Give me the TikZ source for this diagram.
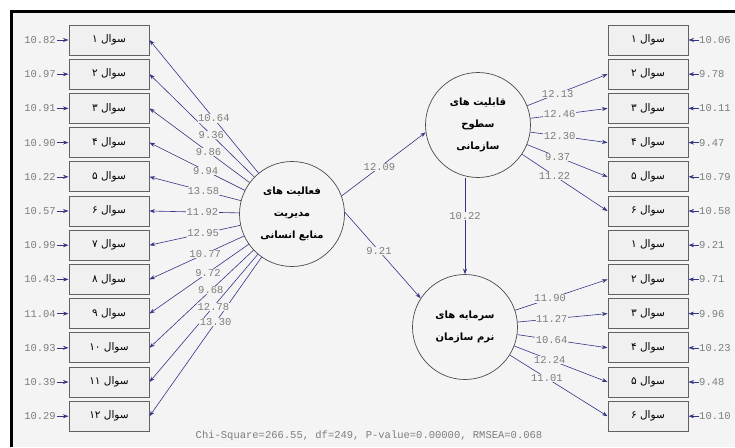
\documentclass[tikz,border=0pt]{standalone}
\usepackage{fontspec}
\setmonofont{Liberation Mono}
\newfontfamily\farsi[Script=Arabic]{DejaVu Sans}
\usetikzlibrary{arrows.meta,positioning}
\TeXXeTstate=1

\definecolor{bgcol}{RGB}{244,244,244}
\definecolor{boxfill}{RGB}{240,240,240}
\definecolor{pathblue}{RGB}{52,52,135}
\definecolor{numgray}{RGB}{125,125,125}

\newcommand{\fa}[1]{{\farsi\beginR #1\endR}}

\begin{document}
\begin{tikzpicture}[
    x=1pt,y=-1pt,
    item/.style={draw=black!62,line width=1pt,fill=boxfill,minimum width=80pt,minimum height=30pt,inner sep=0pt,font=\farsi\fontsize{10.5}{12}\selectfont},
    latent/.style={circle,draw=black!70,line width=0.7pt,fill=bgcol,minimum size=105pt,inner sep=0pt,align=center,font=\farsi\bfseries\fontsize{10}{22}\selectfont},
    num/.style={font=\ttfamily\fontsize{10.5}{10}\selectfont,text=numgray,inner sep=0.5pt},
    tval/.style={num,fill=bgcol},
    arr/.style={-{Stealth[length=5.5pt,width=4pt]},draw=pathblue,line width=0.6pt}
    ]

    % frame
    \useasboundingbox (0,0) rectangle (735,447);
    \fill[white] (0,0) rectangle (735,447);
    \fill[bgcol] (11.5,11.5) rectangle (735,447);
    \draw[line width=3pt] (11.5,447) -- (11.5,11.5) -- (735,11.5);

    % latent variables
    \node[latent] (hrm) at (292,214) {\fa{فعالیت های}\\\fa{مدیریت}\\\fa{منابع انسانی}};
    \node[latent] (cap) at (478,125) {\fa{قابلیت های}\\\fa{سطوح}\\\fa{سازمانی}};
    \node[latent] (soft) at (465,327) {\fa{سرمایه های}\\\fa{نرم سازمان}};

    % left indicators
    \foreach \i/\q/\e [evaluate=\i as \yy using 40+(\i-1)*34.2] in {
        1/۱/10.82, 2/۲/10.97, 3/۳/10.91, 4/۴/10.90, 5/۵/10.22, 6/۶/10.57,
        7/۷/10.99, 8/۸/10.43, 9/۹/11.04, 10/{\beginL۱۰\endL}/10.93,
        11/{\beginL۱۱\endL}/10.39, 12/{\beginL۱۲\endL}/10.29}{
      \node[item] (l\i) at (109,\yy) {\fa{سوال \q}};
      \node[num,left=12pt of l\i] (le\i) {\e};
      \draw[arr] (le\i) -- (l\i);
      \draw[arr] (hrm) -- (l\i.east);
    }
    \foreach \i/\t in {1/10.64, 2/9.36, 3/9.86, 4/9.94, 5/13.58, 6/11.92,
        7/12.95, 8/10.77, 9/9.72, 10/9.68, 11/12.78, 12/13.30}
      \path (hrm) -- (l\i.east) node[tval,pos=0.41] {\t};

    % right indicators
    \foreach \i/\q/\e [evaluate=\i as \yy using 40+(\i-1)*34.2] in {
        1/۱/10.06, 2/۲/9.78, 3/۳/10.11, 4/۴/9.47, 5/۵/10.79, 6/۶/10.58,
        7/۱/9.21, 8/۲/9.71, 9/۳/9.96, 10/۴/10.23, 11/۵/9.48, 12/۶/10.10}{
      \node[item] (r\i) at (648,\yy) {\fa{سوال \q}};
      \node[num,right=10pt of r\i] (re\i) {\e};
      \draw[arr] (re\i) -- (r\i);
    }
    \foreach \i in {2,...,6} \draw[arr] (cap) -- (r\i.west);
    \foreach \i in {8,...,12} \draw[arr] (soft) -- (r\i.west);
    \foreach \i/\t in {2/12.13, 3/12.46, 4/12.30, 5/9.37, 6/11.22}
      \path (cap) -- (r\i.west) node[tval,pos=0.38] {\t};
    \foreach \i/\t in {8/11.90, 9/11.27, 10/10.64, 11/12.24, 12/11.01}
      \path (soft) -- (r\i.west) node[tval,pos=0.38] {\t};

    % structural paths
    \draw[arr] (hrm.20) -- (cap.188) node[tval,pos=0.45] {12.09};
    \draw[arr] (hrm.2) -- (soft.147) node[tval,pos=0.45] {9.21};
    \draw[arr] (cap.south -| soft.north) -- (soft.north) node[tval,pos=0.4] {10.22};

    % fit indices
    \node[num] (fit) at (369,436) {Chi-Square=266.55, df=249, P-value=0.00000, RMSEA=0.068};

\end{tikzpicture}
\end{document}
